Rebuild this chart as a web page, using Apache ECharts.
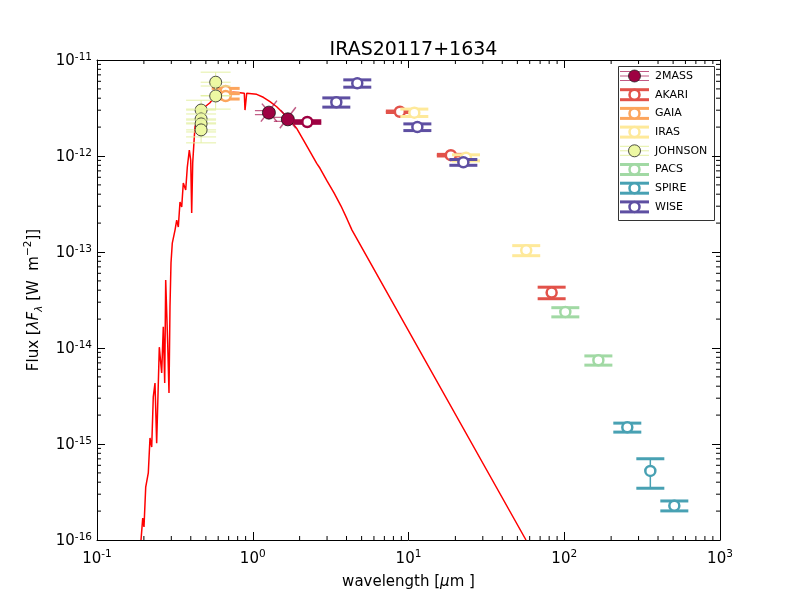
<!DOCTYPE html>
<html><head><meta charset="utf-8">
<script src="https://cdn.jsdelivr.net/npm/echarts@6/dist/echarts.min.js"></script>
<style>html,body{margin:0;padding:0;background:#fff}#c{width:800px;height:600px}</style>
</head><body><div id="c"></div>
<script>
// ---------- data ----------
const chartTitle = 'IRAS20117+1634';
const surveyNames = ['2MASS','AKARI','GAIA','IRAS','JOHNSON','PACS','SPIRE','WISE'];

const modelWave = [0.1917,0.1966,0.2003,0.2055,0.2135,0.2189,0.2245,0.2298,0.2357,0.2416,0.2512,0.2602,0.2665,0.2721,0.2761,0.2843,0.2899,0.2942,0.2986,0.3044,0.3169,0.3249,0.3327,0.3411,0.3498,0.3582,0.3711,0.3801,0.3915,0.3996,0.4055,0.4116,0.4214,0.4258,0.4584,0.4936,0.5315,0.5579,0.6348,0.75,0.8283,0.8826,0.8917,0.9146,1.06,1.169,1.29,1.425,1.571,1.734,1.915,2.112,2.332,2.574,2.703,2.997,3.325,3.687,4.029,4.338,56.8];
const modelFlux = [1.0e-16,1.69e-16,1.37e-16,3.56e-16,4.99e-16,1.155e-15,9.3e-16,3.09e-15,4.32e-15,1.02e-15,1.02e-14,5.49e-15,1.66e-14,4.32e-15,5.11e-14,1.13e-14,3.4e-15,2.67e-14,7.68e-14,1.24e-13,1.69e-13,2.15e-13,1.82e-13,3.32e-13,2.94e-13,5.24e-13,4.43e-13,7.68e-13,1.155e-12,9.08e-13,2.55e-13,8.46e-13,1.58e-12,2.02e-12,2.81e-12,3.26e-12,3.59e-12,3.99e-12,4.43e-12,4.61e-12,4.56e-12,4.5e-12,3.01e-12,4.5e-12,4.39e-12,4.09e-12,3.68e-12,3.26e-12,2.79e-12,2.37e-12,1.94e-12,1.47e-12,1.11e-12,8.39e-13,7.45e-13,5.5e-13,4.12e-13,3.01e-13,2.21e-13,1.69e-13,1.0e-16];

const twomassWave = [1.27, 1.68];
const twomassFlux = [2.83e-12, 2.41e-12];
const twomassOpenWave = [2.24];
const twomassOpenFlux = [2.26e-12];
const twomassOpenErr = [0.07e-12];

const akariWave = [8.8, 18.7, 83];
const akariFlux = [2.89e-12, 1.02e-12, 3.78e-14];
const akariErr = [0.05e-12, 0.02e-12, 0.52e-14];

const gaiaWave = [0.67, 0.67];
const gaiaFlux = [4.76e-12, 4.22e-12];
const gaiaErr = [0.3e-12, 0.3e-12];

const irasWave = [10.9, 23.4, 57];
const irasFlux = [2.83e-12, 9.59e-13, 1.04e-13];
const irasErr = [0.25e-12, 0.7e-13, 0.125e-13];

const johnsonWave = [0.466, 0.466, 0.466, 0.466, 0.578, 0.578];
const johnsonFlux = [3.01e-12, 2.43e-12, 2.16e-12, 1.87e-12, 5.87e-12, 4.22e-12];
const johnsonErr = [0.8e-12, 0.65e-12, 0.58e-12, 0.5e-12, 1.6e-12, 1.14e-12];

const pacsWave = [101.6, 165.6];
const pacsFlux = [2.37e-14, 7.45e-15];
const pacsErr = [0.26e-14, 0.82e-15];

const spireWave = [254, 357, 509];
const spireFlux = [1.49e-15, 5.24e-16, 2.28e-16];
const spireErr = [0.16e-15, 1.78e-16, 0.27e-16];

const wiseWave = [3.44, 4.69, 11.4, 22.5];
const wiseFlux = [3.63e-12, 5.71e-12, 2.0e-12, 8.6e-13];
const wiseErr = [0.4e-12, 0.5e-12, 0.16e-12, 0.6e-13];

const xTickLabels = ['10^-1','10^0','10^1','10^2','10^3'];
const yTickLabels = ['10^-16','10^-15','10^-14','10^-13','10^-12','10^-11'];
const xMin = 0.1, xMax = 1000, yMin = 1e-16, yMax = 1e-11;

// ---------- styling ----------
const colors = {
  '2MASS':'#9e0142','AKARI':'#e2524a','GAIA':'#fca55d','IRAS':'#fee99a',
  'JOHNSON':'#edf8a3','PACS':'#a1d9a4','SPIRE':'#48a1b3','WISE':'#5e4fa2'
};
const FONT = 'DejaVu Sans';

function zip3(w, f, e) { return w.map((v, i) => [v, f[i], e ? e[i] : 0]); }

function openRender(color) {
  return function (params, api) {
    const x = api.value(0), y = api.value(1), e = api.value(2);
    const p = api.coord([x, y]);
    const up = api.coord([x, y + e])[1];
    const dn = api.coord([x, y - e])[1];
    const hw = 14;
    return { type: 'group', children: [
      { type: 'line', shape: { x1: p[0], y1: up, x2: p[0], y2: dn }, style: { stroke: color, lineWidth: 1.5 } },
      { type: 'line', shape: { x1: p[0] - hw, y1: up, x2: p[0] + hw, y2: up }, style: { stroke: color, lineWidth: 3 } },
      { type: 'line', shape: { x1: p[0] - hw, y1: dn, x2: p[0] + hw, y2: dn }, style: { stroke: color, lineWidth: 3 } },
      { type: 'circle', shape: { cx: p[0], cy: p[1], r: 5 }, style: { fill: '#fff', stroke: color, lineWidth: 2.5 } }
    ]};
  };
}
function johnsonRender(params, api) {
  const x = api.value(0), y = api.value(1), e = api.value(2);
  const p = api.coord([x, y]);
  const up = api.coord([x, y + e])[1];
  const dn = api.coord([x, y - e])[1];
  const hw = 15, lc = '#e4f0a4';
  return { type: 'group', children: [
    { type: 'line', shape: { x1: p[0], y1: up, x2: p[0], y2: dn }, style: { stroke: lc, lineWidth: 1 } },
    { type: 'line', shape: { x1: p[0] - hw, y1: up, x2: p[0] + hw, y2: up }, style: { stroke: lc, lineWidth: 1 } },
    { type: 'line', shape: { x1: p[0] - hw, y1: dn, x2: p[0] + hw, y2: dn }, style: { stroke: lc, lineWidth: 1 } },
    { type: 'line', shape: { x1: p[0] - hw, y1: p[1], x2: p[0] + hw, y2: p[1] }, style: { stroke: lc, lineWidth: 1 } },
    { type: 'circle', shape: { cx: p[0], cy: p[1], r: 6 }, style: { fill: colors.JOHNSON, stroke: '#222', lineWidth: 0.8 } }
  ]};
}
function twomassRender(params, api) {
  const x = api.value(0), y = api.value(1);
  const p = api.coord([x, y]);
  const lc = 'rgba(158,1,66,0.65)';
  return { type: 'group', children: [
    { type: 'line', shape: { x1: p[0] - 8, y1: p[1] + 9, x2: p[0] + 8, y2: p[1] - 12 }, style: { stroke: lc, lineWidth: 1.5 } },
    { type: 'line', shape: { x1: p[0] - 7, y1: p[1] - 9, x2: p[0] + 8, y2: p[1] + 9 }, style: { stroke: lc, lineWidth: 1.5 } },
    { type: 'line', shape: { x1: p[0] - 14, y1: p[1] - 2, x2: p[0] - 4, y2: p[1] - 2 }, style: { stroke: lc, lineWidth: 1.2 } },
    { type: 'line', shape: { x1: p[0] - 14, y1: p[1] + 2, x2: p[0] - 4, y2: p[1] + 2 }, style: { stroke: lc, lineWidth: 1.2 } },
    { type: 'circle', shape: { cx: p[0], cy: p[1], r: 6.5 }, style: { fill: colors['2MASS'], stroke: '#111', lineWidth: 0.8 } }
  ]};
}

// minor tick positions (2..9 per decade)
const xMinor = [], yMinor = [];
for (let d = -1; d < 3; d++) for (let k = 2; k < 10; k++) xMinor.push([k * Math.pow(10, d), yMin]);
for (let d = -16; d < -11; d++) for (let k = 2; k < 10; k++) yMinor.push([xMin, k * Math.pow(10, d)]);

function minorX(params, api) {
  const cs = params.coordSys;
  const px = api.coord([api.value(0), api.value(1)])[0];
  return { type: 'group', children: [
    { type: 'line', shape: { x1: px, y1: cs.y + cs.height, x2: px, y2: cs.y + cs.height - 4 }, style: { stroke: '#000', lineWidth: 1 } },
    { type: 'line', shape: { x1: px, y1: cs.y, x2: px, y2: cs.y + 4 }, style: { stroke: '#000', lineWidth: 1 } }
  ]};
}
function minorY(params, api) {
  const cs = params.coordSys;
  const py = api.coord([api.value(0), api.value(1)])[1];
  return { type: 'group', children: [
    { type: 'line', shape: { x1: cs.x, y1: py, x2: cs.x + 4, y2: py }, style: { stroke: '#000', lineWidth: 1 } },
    { type: 'line', shape: { x1: cs.x + cs.width, y1: py, x2: cs.x + cs.width - 4, y2: py }, style: { stroke: '#000', lineWidth: 1 } }
  ]};
}

function expLabel(list) {
  return function (v) {
    const e = Math.round(Math.log10(v));
    const idx = list.findIndex(s => s === '10^' + e);
    const s = idx >= 0 ? list[idx] : '10^' + e;
    const parts = s.split('^');
    return '{b|' + parts[0] + '}{s|' + parts[1] + '}';
  };
}
const labelRich = {
  b: { fontSize: 15, fontFamily: FONT, color: '#000', lineHeight: 20 },
  s: { fontSize: 10.5, fontFamily: FONT, color: '#000', lineHeight: 12, verticalAlign: 'top' }
};

// legend (drawn as graphic elements)
const legendChildren = [];
const lgX0 = 618, lgY0 = 66, lgW = 96, lgH = 154, rowY0 = 76, rowDy = 18.7;
legendChildren.push({ type: 'rect', shape: { x: lgX0 + 0.5, y: lgY0 + 0.5, width: lgW, height: lgH }, style: { fill: '#fff', stroke: '#333', lineWidth: 1 } });
surveyNames.forEach((name, i) => {
  const cy = rowY0 + i * rowDy, c = colors[name];
  if (name === '2MASS' || name === 'JOHNSON') {
    const lc = name === '2MASS' ? 'rgba(158,1,66,0.65)' : '#e4f0a4';
    legendChildren.push({ type: 'line', shape: { x1: 620, y1: cy - 4.5, x2: 649, y2: cy - 4.5 }, style: { stroke: lc, lineWidth: 1 } });
    legendChildren.push({ type: 'line', shape: { x1: 620, y1: cy + 4.5, x2: 649, y2: cy + 4.5 }, style: { stroke: lc, lineWidth: 1 } });
    legendChildren.push({ type: 'line', shape: { x1: 620, y1: cy, x2: 649, y2: cy }, style: { stroke: lc, lineWidth: 1 } });
    legendChildren.push({ type: 'circle', shape: { cx: 634.5, cy: cy, r: 6 }, style: { fill: c, stroke: '#222', lineWidth: 0.8 } });
  } else {
    legendChildren.push({ type: 'line', shape: { x1: 620, y1: cy - 5, x2: 649, y2: cy - 5 }, style: { stroke: c, lineWidth: 3 } });
    legendChildren.push({ type: 'line', shape: { x1: 620, y1: cy + 5, x2: 649, y2: cy + 5 }, style: { stroke: c, lineWidth: 3 } });
    legendChildren.push({ type: 'circle', shape: { cx: 634.5, cy: cy, r: 5 }, style: { fill: '#fff', stroke: c, lineWidth: 2.5 } });
  }
  legendChildren.push({ type: 'text', x: 655, y: cy, style: { text: name, fill: '#000', font: '11px ' + FONT, align: 'left', verticalAlign: 'middle', textAlign: 'left', textVerticalAlign: 'middle' } });
});

const axisBase = {
  type: 'log', logBase: 10,
  axisLine: { show: true, onZero: false, lineStyle: { color: '#000', width: 1 } },
  axisTick: { show: true, inside: true, length: 8, lineStyle: { color: '#000', width: 1 } },
  splitLine: { show: false }, minorTick: { show: false }, minorSplitLine: { show: false }
};

const chart = echarts.init(document.getElementById('c'), null, { renderer: 'canvas' });
chart.setOption({
  animation: false,
  backgroundColor: '#fff',
  title: { text: chartTitle, left: 408.5, top: 36, textAlign: 'center',
    textStyle: { fontFamily: FONT, fontSize: 19, fontWeight: 'normal', color: '#000' } },
  grid: { left: 97, right: 80, top: 60, bottom: 60, containLabel: false, outerBoundsMode: 'none' },
  xAxis: [
    Object.assign({}, axisBase, { min: xMin, max: xMax, splitNumber: 4, position: 'bottom',
      axisLabel: { formatter: expLabel(xTickLabels), rich: labelRich, margin: 9 },
      name: '{n|wavelength [}{i|μ}{n|m ]}', nameLocation: 'middle', nameGap: 35,
      nameTextStyle: { rich: { n: { fontFamily: FONT, fontSize: 15, color: '#000' }, i: { fontFamily: FONT, fontSize: 15, fontStyle: 'italic', color: '#000' } } } }),
    Object.assign({}, axisBase, { min: xMin, max: xMax, splitNumber: 4, position: 'top', axisLabel: { show: false } })
  ],
  yAxis: [
    Object.assign({}, axisBase, { min: yMin, max: yMax, splitNumber: 5, position: 'left',
      axisLabel: { formatter: expLabel(yTickLabels), rich: labelRich, margin: 5, padding: [3, 0, 0, 0] },
      name: '{n|Flux [}{i|λF}{sub|λ}{n| [W  m}{sup|−2}{n|]]}', nameLocation: 'middle', nameGap: 52, nameRotate: 90,
      nameTextStyle: { rich: {
        n: { fontFamily: FONT, fontSize: 15, color: '#000', lineHeight: 22 },
        i: { fontFamily: FONT, fontSize: 15, fontStyle: 'italic', color: '#000', lineHeight: 22 },
        sub: { fontFamily: FONT, fontSize: 10.5, fontStyle: 'italic', color: '#000', lineHeight: 12, verticalAlign: 'bottom' },
        sup: { fontFamily: FONT, fontSize: 10.5, color: '#000', lineHeight: 12, verticalAlign: 'top' } } } }),
    Object.assign({}, axisBase, { min: yMin, max: yMax, splitNumber: 5, position: 'right', axisLabel: { show: false } })
  ],
  graphic: { elements: [{ type: 'group', z: 100, children: legendChildren }] },
  series: [
    { type: 'custom', name: 'xminor', data: xMinor, renderItem: minorX, z: 1, silent: true, clip: false },
    { type: 'custom', name: 'yminor', data: yMinor, renderItem: minorY, z: 1, silent: true, clip: false },
    { type: 'line', name: 'model', data: modelWave.map((w, i) => [w, modelFlux[i]]), showSymbol: false, symbol: 'none',
      lineStyle: { color: '#ff0000', width: 1.5 }, z: 2, clip: true },
    { type: 'custom', name: '2MASS', data: zip3(twomassWave, twomassFlux), renderItem: twomassRender, z: 3 },
    { type: 'custom', name: '2MASS open', data: zip3(twomassOpenWave, twomassOpenFlux, twomassOpenErr), renderItem: openRender(colors['2MASS']), z: 3 },
    { type: 'custom', name: 'AKARI', data: zip3(akariWave, akariFlux, akariErr), renderItem: openRender(colors.AKARI), z: 4 },
    { type: 'custom', name: 'GAIA', data: zip3(gaiaWave, gaiaFlux, gaiaErr), renderItem: openRender(colors.GAIA), z: 5 },
    { type: 'custom', name: 'IRAS', data: zip3(irasWave, irasFlux, irasErr), renderItem: openRender(colors.IRAS), z: 6 },
    { type: 'custom', name: 'JOHNSON', data: zip3(johnsonWave, johnsonFlux, johnsonErr), renderItem: johnsonRender, z: 7 },
    { type: 'custom', name: 'PACS', data: zip3(pacsWave, pacsFlux, pacsErr), renderItem: openRender(colors.PACS), z: 8 },
    { type: 'custom', name: 'SPIRE', data: zip3(spireWave, spireFlux, spireErr), renderItem: openRender(colors.SPIRE), z: 9 },
    { type: 'custom', name: 'WISE', data: zip3(wiseWave, wiseFlux, wiseErr), renderItem: openRender(colors.WISE), z: 10 }
  ]
});
</script></body></html>
